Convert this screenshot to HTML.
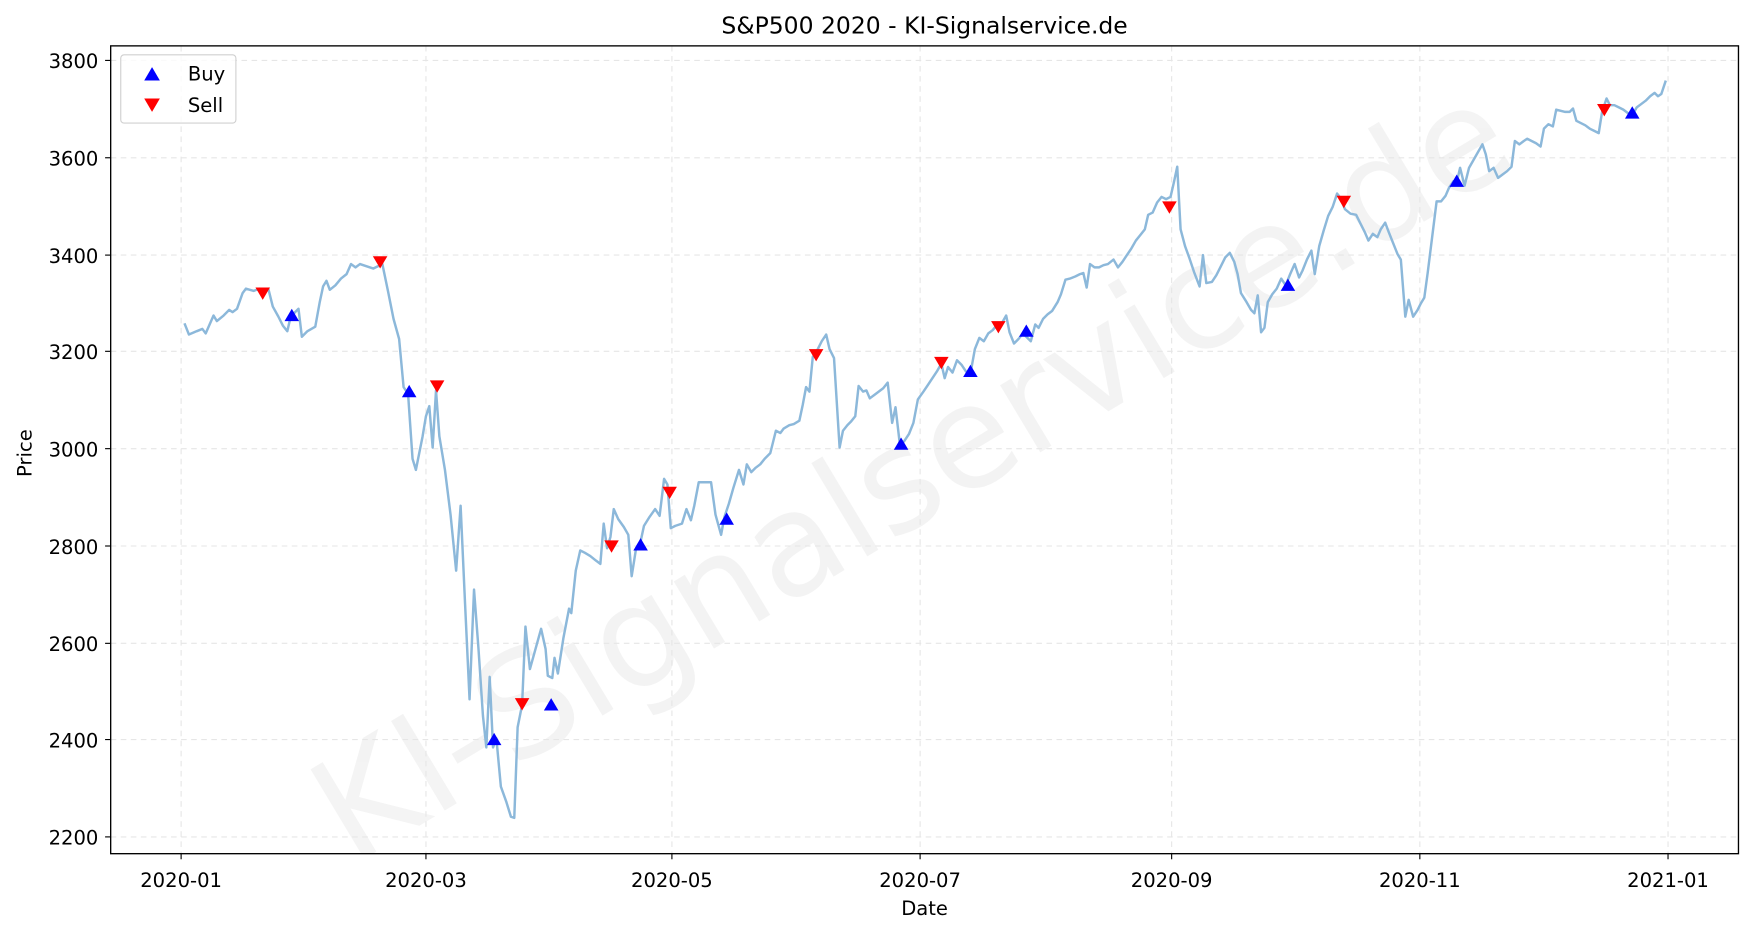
<!DOCTYPE html>
<html><head><style>
html,body{margin:0;padding:0;background:#fff;}
svg{display:block;}
text{font-family:"DejaVu Sans","Liberation Sans",sans-serif;fill:#000;}
</style></head><body>
<svg width="1753" height="932" viewBox="0 0 1568 833" preserveAspectRatio="none" xmlns="http://www.w3.org/2000/svg">
<rect width="1568" height="833" fill="#fff"/>
<defs><clipPath id="c"><rect x="99" y="41" width="1456" height="722"/></clipPath></defs>
<g clip-path="url(#c)">
<text x="0" y="0" transform="translate(820,430) rotate(-31)" text-anchor="middle" dominant-baseline="middle" font-size="128" style="fill:#ebebeb;opacity:0.55">KI-Signalservice.de</text>
</g>
<g stroke="#e6e6e6" stroke-width="1" stroke-dasharray="5,4">
<line x1="162" y1="41" x2="162" y2="763"/><line x1="381" y1="41" x2="381" y2="763"/><line x1="601" y1="41" x2="601" y2="763"/><line x1="823" y1="41" x2="823" y2="763"/><line x1="1048" y1="41" x2="1048" y2="763"/><line x1="1270" y1="41" x2="1270" y2="763"/><line x1="1492" y1="41" x2="1492" y2="763"/>
<line x1="99" y1="54" x2="1555" y2="54"/><line x1="99" y1="141" x2="1555" y2="141"/><line x1="99" y1="228" x2="1555" y2="228"/><line x1="99" y1="314" x2="1555" y2="314"/><line x1="99" y1="401" x2="1555" y2="401"/><line x1="99" y1="488" x2="1555" y2="488"/><line x1="99" y1="575" x2="1555" y2="575"/><line x1="99" y1="661" x2="1555" y2="661"/><line x1="99" y1="748" x2="1555" y2="748"/>
</g>
<polyline fill="none" stroke="#8cb8da" stroke-width="2.2" stroke-linejoin="round" points="165,289 169,299 176,296 181,294 184,298 191,282 194,287 200,282 205,277 208,279 212,276 217,262 220,258 227,260 232,258 236,262 240,258 244,274 249,283 253,291 257,296 260,283 263,280 267,276 270,301 275,296 282,292 286,270 289,256 292,251 295,259 300,255 305,249 310,245 314,236 318,239 322,236 328,238 334,240 338,238 342,236 347,260 352,285 357,303 361,346 365,352 369,410 372,420 375,405 378,390 381,372 384,363 387,400 390,349 393,390 398,420 403,460 408,510 412,452 416,540 420,625 424,527 428,580 432,640 435,668 438,605 441,668 444,660 448,703 453,717 457,730 460,731 463,650 467,630 470,560 474,598 479,580 484,562 488,580 490,604 494,606 496,588 499,602 504,570 509,544 511,548 515,510 519,492 523,494 528,497 533,501 537,504 540,468 543,490 546,480 549,455 553,464 558,471 562,478 565,515 569,490 573,484 576,470 581,462 586,455 590,461 594,428 597,433 600,472 604,470 610,468 614,455 618,465 621,452 625,431 630,431 636,431 640,460 645,478 648,462 652,450 656,436 661,420 665,433 668,415 672,422 676,418 680,415 684,410 689,405 694,385 698,387 701,383 706,380 710,379 715,376 718,362 721,346 724,350 727,319 731,313 735,305 739,299 742,312 746,320 751,400 754,385 758,380 761,377 765,372 768,345 772,350 775,349 778,356 782,353 786,350 790,347 794,342 798,378 801,364 805,398 809,394 813,388 817,378 821,357 826,350 830,344 834,338 838,332 842,325 845,338 848,328 852,333 856,322 860,326 864,332 868,334 872,312 876,302 880,305 884,298 888,295 892,290 896,289 900,282 903,297 907,307 911,303 915,298 919,302 922,305 926,290 929,293 933,285 937,281 941,278 946,270 949,263 953,250 957,249 962,247 966,245 969,244 972,257 975,236 979,239 983,239 987,237 991,236 996,232 1000,239 1004,234 1008,228 1012,222 1016,215 1020,210 1024,205 1027,192 1031,190 1035,181 1039,176 1043,178 1047,176 1050,163 1053,149 1056,205 1060,220 1064,231 1068,243 1073,256 1076,228 1079,253 1084,252 1088,246 1092,238 1096,230 1100,226 1104,234 1107,245 1110,262 1115,270 1119,277 1122,280 1125,264 1128,297 1131,293 1134,270 1138,263 1142,258 1146,249 1150,255 1154,245 1158,236 1162,248 1165,242 1169,232 1173,224 1176,245 1180,220 1184,206 1188,193 1192,185 1196,173 1199,177 1203,187 1208,191 1213,192 1217,200 1221,208 1224,215 1228,209 1232,212 1235,205 1239,199 1242,207 1246,217 1250,227 1253,232 1257,283 1260,268 1264,283 1268,277 1271,271 1274,266 1277,244 1281,212 1285,180 1289,180 1293,175 1296,168 1300,162 1303,163 1306,150 1310,166 1314,150 1318,143 1322,136 1326,129 1329,138 1332,153 1336,150 1340,159 1344,156 1348,153 1352,149 1355,126 1359,129 1363,126 1366,124 1370,126 1374,128 1378,131 1381,115 1385,111 1389,113 1392,98 1396,99 1400,100 1404,100 1407,97 1410,108 1414,110 1418,112 1422,115 1426,117 1430,119 1433,100 1437,88 1440,94 1444,94 1448,96 1452,98 1456,101 1460,103 1464,96 1468,93 1472,90 1476,86 1480,83 1483,86 1486,84 1490,72"/>
<g fill="#0000ff">
<path d="M261,276 l6.5,11 h-13z"/><path d="M366,344 l6.5,11 h-13z"/><path d="M442,655 l6.5,11 h-13z"/><path d="M493,624 l6.5,11 h-13z"/><path d="M573,481 l6.5,11 h-13z"/><path d="M650,458 l6.5,11 h-13z"/><path d="M806,391 l6.5,11 h-13z"/><path d="M868,326 l6.5,11 h-13z"/><path d="M918,290 l6.5,11 h-13z"/><path d="M1152,249 l6.5,11 h-13z"/><path d="M1303,156 l6.5,11 h-13z"/><path d="M1460,95 l6.5,11 h-13z"/>
</g>
<g fill="#ff0000">
<path d="M235,268 l6.5,-11 h-13z"/><path d="M340,240 l6.5,-11 h-13z"/><path d="M391,351 l6.5,-11 h-13z"/><path d="M467,635 l6.5,-11 h-13z"/><path d="M547,494 l6.5,-11 h-13z"/><path d="M599,446 l6.5,-11 h-13z"/><path d="M730,323 l6.5,-11 h-13z"/><path d="M842,330 l6.5,-11 h-13z"/><path d="M893,298 l6.5,-11 h-13z"/><path d="M1046,191 l6.5,-11 h-13z"/><path d="M1202,186 l6.5,-11 h-13z"/><path d="M1435,104 l6.5,-11 h-13z"/>
</g>
<rect x="99" y="41" width="1456" height="722" fill="none" stroke="#000" stroke-width="1.2"/>
<g stroke="#000" stroke-width="1">
<line x1="162" y1="763" x2="162" y2="768"/><line x1="381" y1="763" x2="381" y2="768"/><line x1="601" y1="763" x2="601" y2="768"/><line x1="823" y1="763" x2="823" y2="768"/><line x1="1048" y1="763" x2="1048" y2="768"/><line x1="1270" y1="763" x2="1270" y2="768"/><line x1="1492" y1="763" x2="1492" y2="768"/>
<line x1="94" y1="54" x2="99" y2="54"/><line x1="94" y1="141" x2="99" y2="141"/><line x1="94" y1="228" x2="99" y2="228"/><line x1="94" y1="314" x2="99" y2="314"/><line x1="94" y1="401" x2="99" y2="401"/><line x1="94" y1="488" x2="99" y2="488"/><line x1="94" y1="575" x2="99" y2="575"/><line x1="94" y1="661" x2="99" y2="661"/><line x1="94" y1="748" x2="99" y2="748"/>
</g>
<g font-size="17.5" text-anchor="middle">
<text x="162" y="793">2020-01</text><text x="381" y="793">2020-03</text><text x="601" y="793">2020-05</text><text x="823" y="793">2020-07</text><text x="1048" y="793">2020-09</text><text x="1270" y="793">2020-11</text><text x="1492" y="793">2021-01</text>
</g>
<g font-size="17.5" text-anchor="end">
<text x="88" y="61">3800</text><text x="88" y="148">3600</text><text x="88" y="235">3400</text><text x="88" y="321">3200</text><text x="88" y="408">3000</text><text x="88" y="495">2800</text><text x="88" y="582">2600</text><text x="88" y="668">2400</text><text x="88" y="755">2200</text>
</g>
<text x="827" y="818" font-size="17.5" text-anchor="middle">Date</text>
<text x="0" y="0" transform="translate(28,405) rotate(-90)" font-size="17.5" text-anchor="middle">Price</text>
<text x="827" y="30" font-size="21" text-anchor="middle">S&amp;P500 2020 - KI-Signalservice.de</text>
<rect x="108" y="49" width="103" height="61" rx="3" fill="#fff" fill-opacity="0.8" stroke="#d0d0d0"/>
<path d="M136,60 l7,12 h-14z" fill="#0000ff"/>
<path d="M136,100 l7,-12 h-14z" fill="#ff0000"/>
<text x="168" y="72" font-size="17.5">Buy</text>
<text x="168" y="100" font-size="17.5">Sell</text>
</svg>
</body></html>
